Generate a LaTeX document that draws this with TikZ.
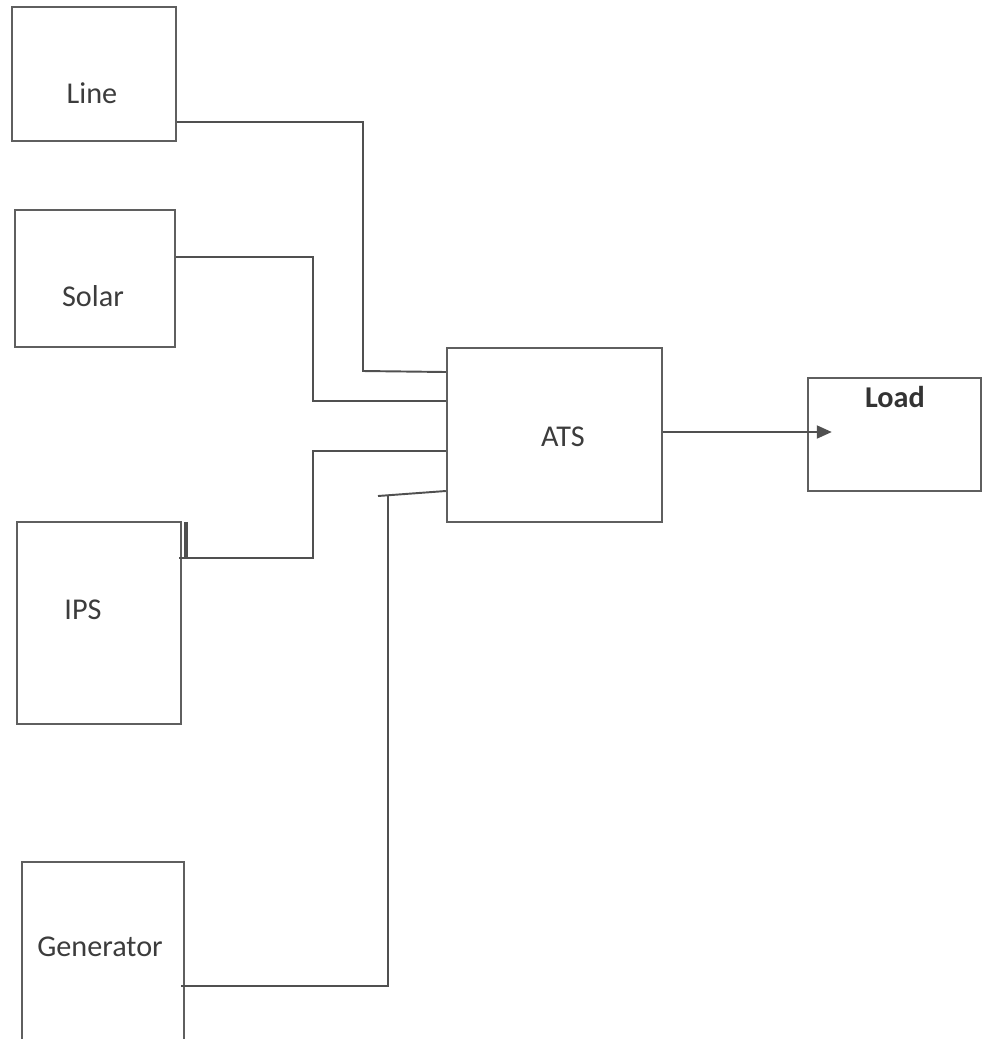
\documentclass[tikz,border=0pt]{standalone}
\usepackage{fontspec}
\setmainfont{Carlito}
\usepackage{xcolor}
\definecolor{boxgray}{RGB}{95,95,95}
\definecolor{wiregray}{RGB}{80,80,80}
\definecolor{textgray}{RGB}{60,60,60}
\usetikzlibrary{arrows.meta,calc}

\tikzset{
  block/.style={draw=boxgray, line width=1.4pt, inner sep=0pt},
  lbl/.style={font=\fontsize{17.2}{20}\selectfont, text=textgray, inner sep=0pt},
  wire/.style={draw=wiregray, line width=1.1pt}
}

\begin{document}
\begin{tikzpicture}[x=0.02cm, y=-0.02cm]
  \useasboundingbox (0,0) rectangle (982,1039);
  % Sources
  \node[block, minimum width=3.28cm, minimum height=2.68cm] (line) at (94,74) {};
  \node[block, minimum width=3.2cm, minimum height=2.74cm] (solar) at (95,278.5) {};
  \node[block, minimum width=3.28cm, minimum height=4.04cm] (ips) at (99,623) {};
  \node[block, minimum width=3.24cm, minimum height=3.96cm] (gen) at (103,961) {};
  % Switch and load
  \node[block, minimum width=4.3cm, minimum height=3.48cm] (ats) at (554.5,435) {};
  \node[block, minimum width=3.46cm, minimum height=2.26cm] (load) at (894.5,434.5) {};
  % Labels
  \node[lbl] (lineTxt) at (92,93) {Line};
  \node[lbl] (solarTxt) at (93,296) {Solar};
  \node[lbl] (ipsTxt) at (83,610) {IPS};
  \node[lbl] (genTxt) at (100,947) {Generator};
  \node[lbl] (atsTxt) at (563,437) {ATS};
  \node[lbl, font=\fontsize{17.2}{20}\selectfont\bfseries, text=black!80] (loadTxt) at (895,397) {Load};
  % Wires into the ATS
  \draw[wire] (line.east |- 0,122) -| (363,371) -- (ats.west |- 0,372);
  \draw[wire] (solar.east |- 0,257) -| (313,401) -- (ats.west |- 0,401);
  \draw[wire] (ats.west |- 0,451) -| (313,558) -- ($(ips.east |- 0,558)+(-3,0)$);
  \draw[wire, line width=2.4pt] ($(ips.north east)+(4,1)$) -- ($(ips.east |- 0,558)+(4,0)$);
  \coordinate (tee) at (378,496);
  \draw[wire] ($(gen.east |- 0,986)+(-4,0)$) -| (388,495);
  \draw[wire] (tee) -- (ats.west |- 0,491);
  % Output
  \draw[wire, -{Triangle[length=0.3cm, width=0.26cm]}] (ats.east |- 0,432) -- ($(load.west)+(25,-2.5)$);
\end{tikzpicture}
\end{document}
